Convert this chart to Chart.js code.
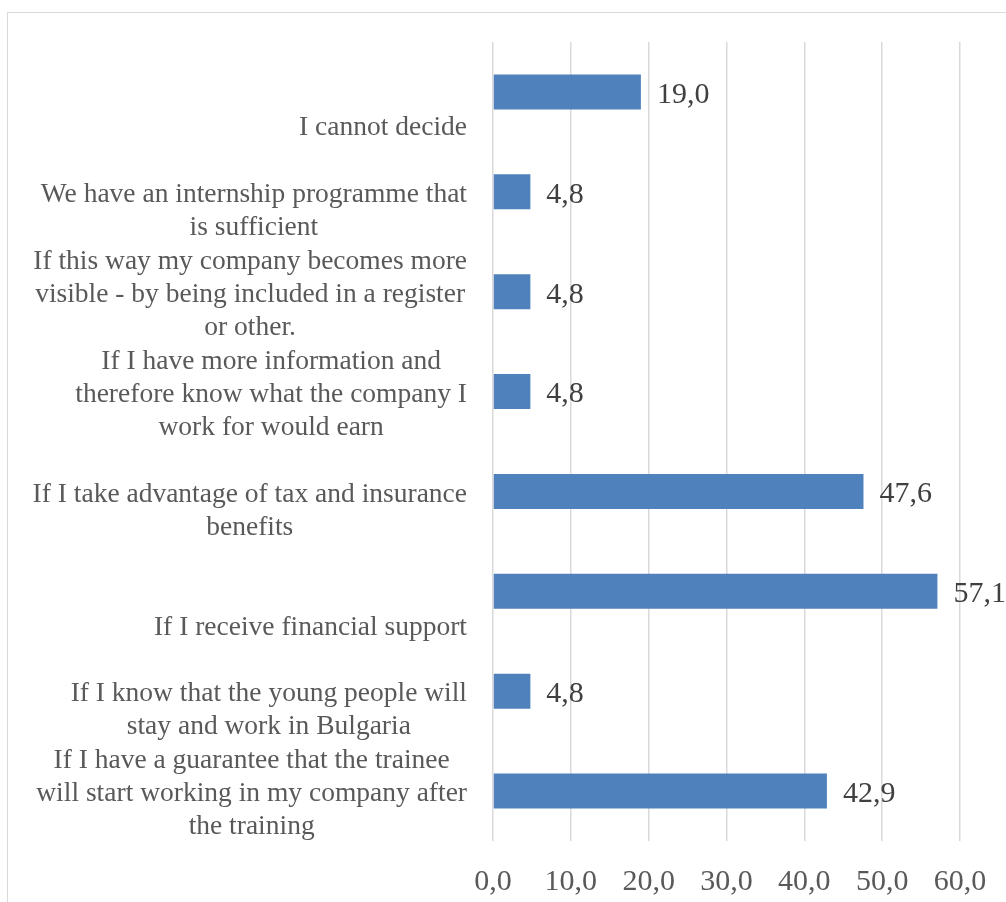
<!DOCTYPE html>
<html><head><meta charset="utf-8">
<script src="https://cdn.jsdelivr.net/npm/chart.js@4.4.0/dist/chart.umd.min.js"></script>
<style>
html,body{margin:0;padding:0;background:#fff;overflow:hidden;width:1006px;height:902px;}
#frame{position:absolute;left:7px;top:12px;width:1100px;height:1000px;border:1px solid #d9d9d9;}
#wrap{position:absolute;left:0;top:0;width:1006px;height:902px;}
</style></head><body>
<div id="frame"></div>
<div id="wrap"><canvas id="c" width="1006" height="902"></canvas></div>
<script>
const categories = [
  ["I cannot decide"],
  ["We have an internship programme that", "is sufficient"],
  ["If this way my company becomes more", "visible - by being included in a register", "or other."],
  ["If I have more information and", "therefore know what the company I", "work for would earn"],
  ["If I take advantage of tax and insurance", "benefits"],
  ["If I receive financial support"],
  ["If I know that the young people will", "stay and work in Bulgaria"],
  ["If I have a guarantee that the trainee", "will start working in my company after", "the training"]
];
const values = [19.0, 4.8, 4.8, 4.8, 47.6, 57.1, 4.8, 42.9];
const valueLabels = ["19,0", "4,8", "4,8", "4,8", "47,6", "57,1", "4,8", "42,9"];
const xTickLabels = ["0,0", "10,0", "20,0", "30,0", "40,0", "50,0", "60,0"];

const SERIF = '"Liberation Serif", "Times New Roman", serif';

const labelPlugin = {
  id: 'customLabels',
  afterDraw(chart) {
    const ctx = chart.ctx;
    const ys = chart.scales.y;
    const area = chart.chartArea;
    ctx.save();
    ctx.font = '27.5px ' + SERIF;
    ctx.fillStyle = '#595959';
    ctx.textBaseline = 'middle';
    ctx.textAlign = 'center';
    const lh = 33;
    categories.forEach((lines, i) => {
      const cy = ys.getPixelForValue(i) + 3;
      const widest = Math.max(...lines.map(l => ctx.measureText(l).width));
      const cx = area.left - 26 - widest / 2;
      const n = lines.length;
      lines.forEach((l, j) => {
        ctx.fillText(l, cx, cy + (j - (n - 1)) * lh + lh);
      });
    });
    ctx.font = '30px ' + SERIF;
    ctx.fillStyle = '#404040';
    ctx.textAlign = 'left';
    const meta = chart.getDatasetMeta(0);
    meta.data.forEach((bar, i) => {
      ctx.fillText(valueLabels[i], bar.x + 16, bar.y + 3);
    });
    ctx.restore();
  }
};

new Chart(document.getElementById('c'), {
  type: 'bar',
  data: {
    labels: categories,
    datasets: [{
      data: values,
      backgroundColor: '#4F81BD',
      borderWidth: 0,
      barPercentage: 0.35,
      categoryPercentage: 1.0
    }]
  },
  options: {
    indexAxis: 'y',
    responsive: false,
    devicePixelRatio: 1,
    animation: false,
    layout: { padding: { top: 42, right: 46, bottom: 0, left: 0 } },
    plugins: { legend: { display: false }, tooltip: { enabled: false } },
    scales: {
      x: {
        min: 0, max: 60,
        ticks: {
          stepSize: 10,
          padding: 23,
          color: '#595959',
          font: { family: SERIF, size: 30 },
          callback: (v, i) => xTickLabels[i]
        },
        grid: { color: '#d9d9d9', lineWidth: 1.5, drawTicks: false },
        border: { display: false },
        afterFit: s => { s.height = 61; s.paddingRight = 0; s.paddingLeft = 0; }
      },
      y: {
        ticks: { display: false },
        grid: { display: false },
        border: { display: false },
        afterFit: s => { s.width = 493; }
      }
    }
  },
  plugins: [labelPlugin]
});
</script>
</body></html>
